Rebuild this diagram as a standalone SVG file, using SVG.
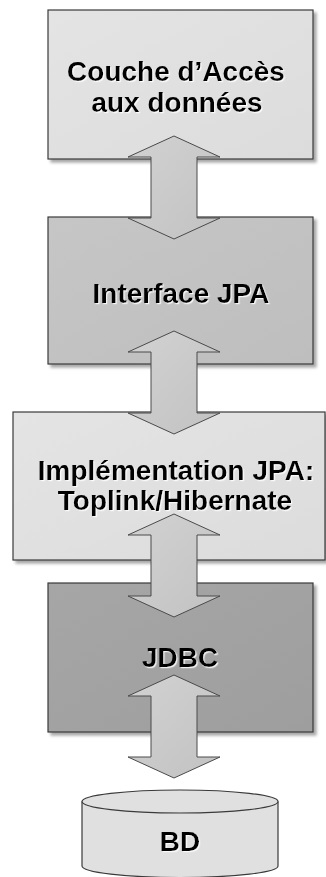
<svg xmlns="http://www.w3.org/2000/svg" width="326" height="877" viewBox="0 0 326 877">
<defs>
<filter id="shadow" x="-10%" y="-10%" width="125%" height="125%">
<feDropShadow dx="3" dy="3" stdDeviation="1.5" flood-color="#000" flood-opacity="0.35"/>
</filter>
<filter id="tshadow" x="-5%" y="-20%" width="115%" height="150%">
<feDropShadow dx="1.2" dy="1.2" stdDeviation="0.4" flood-color="#fff" flood-opacity="0.85"/>
</filter>
<linearGradient id="gLight" x1="0" y1="0" x2="1" y2="1">
<stop offset="0" stop-color="#e4e4e4"/><stop offset="1" stop-color="#dcdcdc"/>
</linearGradient>
<linearGradient id="gMid" x1="0" y1="0" x2="1" y2="1">
<stop offset="0" stop-color="#c6c6c6"/><stop offset="1" stop-color="#bebebe"/>
</linearGradient>
<linearGradient id="gDark" x1="0" y1="0" x2="1" y2="1">
<stop offset="0" stop-color="#a6a6a6"/><stop offset="1" stop-color="#9e9e9e"/>
</linearGradient>
<linearGradient id="gArrow" x1="0" y1="0" x2="1" y2="1">
<stop offset="0" stop-color="#d2d2d2"/><stop offset="1" stop-color="#c2c2c2"/>
</linearGradient>
<path id="arrowShape" d="M0,0 L46,21 L23,21 L23,82 L46,82 L0,103 L-46,82 L-23,82 L-23,21 L-46,21 Z"/>
</defs>
<style>
.box{stroke:#3a3a3a;stroke-width:1.2;filter:url(#shadow)}
.lbl{font-family:"Liberation Sans",Arial,sans-serif;font-weight:bold;font-size:28px;fill:#000;text-anchor:middle;filter:url(#tshadow)}
.arrow{fill:url(#gArrow);stroke:#4a4a4a;stroke-width:1}
.cyl{fill:#e0e0e0;stroke:#3a3a3a;stroke-width:1.2}
</style>
<rect width="326" height="877" fill="#fff"/>

<g id="couche-acces">
<rect class="box" x="48" y="10" width="265" height="149" fill="url(#gLight)"/>
<text class="lbl" x="176" y="81">Couche d’Accès</text>
<text class="lbl" x="177" y="112">aux données</text>
</g>

<g id="interface-jpa">
<rect class="box" x="48" y="217" width="265" height="147" fill="url(#gMid)"/>
<text class="lbl" x="181" y="303">Interface JPA</text>
</g>

<g id="implementation-jpa">
<rect class="box" x="13" y="412" width="312" height="148" fill="url(#gLight)"/>
<text class="lbl" x="176" y="480">Implémentation JPA:</text>
<text class="lbl" x="175" y="510">Toplink/Hibernate</text>
</g>

<g id="jdbc">
<rect class="box" x="48" y="583" width="265" height="149" fill="url(#gDark)"/>
<text class="lbl" x="180" y="667">JDBC</text>
</g>

<g id="bd">
<path class="cyl" d="M82,801.5 L82,866 A98,11.5 0 0 0 278,866 L278,801.5" />
<ellipse class="cyl" cx="180" cy="801.5" rx="98" ry="11.5" fill="#e8e8e8"/>
<text class="lbl" x="180" y="851">BD</text>
</g>

<g id="connectors">
<use href="#arrowShape" class="arrow" x="174" y="136"/>
<use href="#arrowShape" class="arrow" x="174" y="331"/>
<use href="#arrowShape" class="arrow" x="174" y="514"/>
<use href="#arrowShape" class="arrow" x="174" y="675"/>
</g>
</svg>
